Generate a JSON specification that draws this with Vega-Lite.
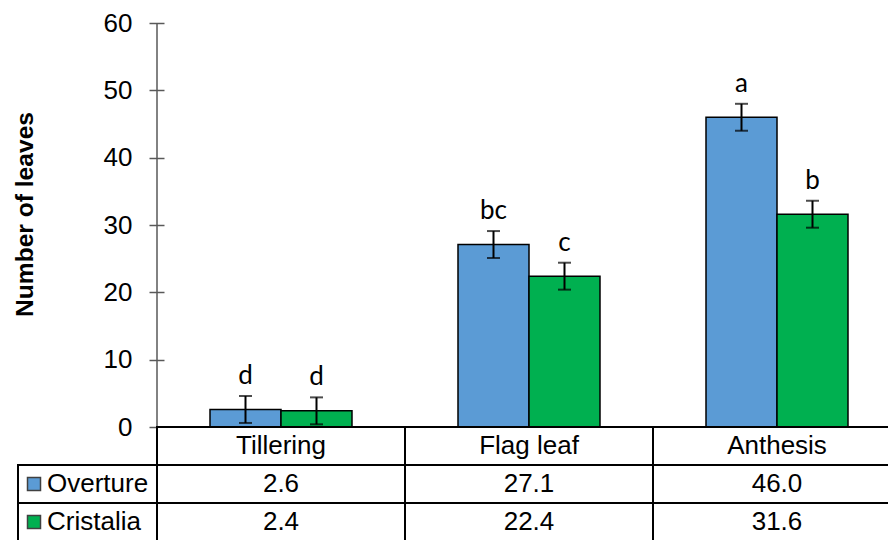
{
  "$schema": "https://vega.github.io/schema/vega-lite/v6.json",
  "width": 731,
  "height": 517,
  "autosize": {"type": "none"},
  "padding": {"left": 157, "top": 23, "right": 0, "bottom": 0},
  "background": "white",
  "config": {"view": {"stroke": null}, "font": "Liberation Sans"},
  "datasets": {
    "leaves": [
      {"stage": "Tillering", "cultivar": "Overture", "mean": 2.6, "se": 2.0, "group": "d"},
      {"stage": "Tillering", "cultivar": "Cristalia", "mean": 2.4, "se": 2.0, "group": "d"},
      {"stage": "Flag leaf", "cultivar": "Overture", "mean": 27.1, "se": 2.0, "group": "bc"},
      {"stage": "Flag leaf", "cultivar": "Cristalia", "mean": 22.4, "se": 2.0, "group": "c"},
      {"stage": "Anthesis", "cultivar": "Overture", "mean": 46.0, "se": 2.0, "group": "a"},
      {"stage": "Anthesis", "cultivar": "Cristalia", "mean": 31.6, "se": 2.0, "group": "b"}
    ],
    "stages": [{"stage": "Tillering"}, {"stage": "Flag leaf"}, {"stage": "Anthesis"}],
    "cultivars": [{"cultivar": "Overture"}, {"cultivar": "Cristalia"}]
  },
  "layer": [
    {
      "layer": [
        {
          "data": {"name": "leaves"},
          "transform": [
            {"calculate": "datum.mean - datum.se", "as": "lo"},
            {"calculate": "datum.mean + datum.se", "as": "hi"}
          ],
          "encoding": {
            "x": {
              "field": "stage", "type": "nominal",
              "scale": {"domain": ["Tillering", "Flag leaf", "Anthesis"], "range": [0, 744], "paddingInner": 0, "paddingOuter": 0},
              "axis": null
            },
            "xOffset": {
              "field": "cultivar", "type": "nominal",
              "scale": {"domain": ["Overture", "Cristalia"], "paddingInner": 0, "paddingOuter": 0.7465}
            }
          },
          "layer": [
            {
              "mark": {"type": "bar", "stroke": "black", "strokeWidth": 1.5},
              "encoding": {
                "y": {
                  "field": "mean", "type": "quantitative",
                  "scale": {"domain": [0, 60], "range": [404, 0], "nice": false, "zero": true},
                  "axis": {
                    "values": [0, 10, 20, 30, 40, 50, 60],
                    "title": "Number of leaves",
                    "titleFont": "Liberation Sans", "titleFontSize": 24.6, "titleFontWeight": "bold", "titleColor": "black",
                    "titlePadding": 66, "titleY": 191,
                    "labelFont": "Liberation Sans", "labelFontSize": 26, "labelColor": "black", "labelPadding": 17,
                    "tickColor": "#595959", "tickWidth": 1.5, "tickSize": 15,
                    "offset": -7, "domain": false, "grid": false
                  }
                },
                "color": {
                  "field": "cultivar", "type": "nominal",
                  "scale": {"domain": ["Overture", "Cristalia"], "range": ["#5B9BD5", "#00B050"]},
                  "legend": null
                }
              }
            },
            {
              "mark": {"type": "rule", "color": "black", "strokeWidth": 2},
              "encoding": {"y": {"field": "lo", "type": "quantitative"}, "y2": {"field": "hi"}}
            },
            {
              "mark": {"type": "tick", "orient": "horizontal", "color": "black", "size": 13, "thickness": 2},
              "encoding": {"y": {"field": "lo", "type": "quantitative"}}
            },
            {
              "mark": {"type": "tick", "orient": "horizontal", "color": "black", "size": 13, "thickness": 2},
              "encoding": {"y": {"field": "hi", "type": "quantitative"}}
            },
            {
              "mark": {"type": "text", "font": "Lato", "fontSize": 26, "color": "black", "baseline": "alphabetic", "dy": -12},
              "encoding": {"y": {"field": "hi", "type": "quantitative"}, "text": {"field": "group"}}
            }
          ]
        },
        {
          "data": {"values": [{}]},
          "mark": {"type": "rule", "color": "#595959", "strokeWidth": 1.5},
          "encoding": {
            "x": {"datum": "Tillering", "bandPosition": 0},
            "y": {"datum": 0},
            "y2": {"datum": 60}
          }
        }
      ]
    },
    {
      "encoding": {
        "x": {
          "field": "stage", "type": "nominal",
          "scale": {"domain": ["Tillering", "Flag leaf", "Anthesis"], "range": [0, 744], "paddingInner": 0, "paddingOuter": 0},
          "axis": null
        }
      },
      "layer": [
        {
          "data": {"name": "stages"},
          "mark": {"type": "rect", "fill": "white", "stroke": "black", "strokeWidth": 2},
          "encoding": {
            "y": {"datum": "header", "type": "nominal", "scale": {"domain": ["header", "Overture", "Cristalia"], "range": [404, 518], "paddingInner": 0, "paddingOuter": 0}, "axis": null}
          }
        },
        {
          "data": {"name": "stages"},
          "mark": {"type": "text", "fontSize": 26, "color": "black", "baseline": "middle"},
          "encoding": {
            "y": {"datum": "header", "type": "nominal"},
            "text": {"field": "stage"}
          }
        },
        {
          "data": {"name": "leaves"},
          "mark": {"type": "rect", "fill": "white", "stroke": "black", "strokeWidth": 2},
          "encoding": {"y": {"field": "cultivar", "type": "nominal"}}
        },
        {
          "data": {"name": "leaves"},
          "mark": {"type": "text", "fontSize": 26, "color": "black", "baseline": "middle"},
          "encoding": {
            "y": {"field": "cultivar", "type": "nominal"},
            "text": {"field": "mean", "type": "quantitative", "format": ".1f"}
          }
        }
      ]
    },
    {
      "data": {"name": "cultivars"},
      "encoding": {
        "y": {"field": "cultivar", "type": "nominal", "scale": {"domain": ["header", "Overture", "Cristalia"], "range": [404, 518], "paddingInner": 0, "paddingOuter": 0}, "axis": null}
      },
      "layer": [
        {
          "mark": {"type": "rect", "fill": "white", "stroke": "black", "strokeWidth": 2},
          "encoding": {
            "x": {"datum": "key", "type": "nominal", "scale": {"domain": ["key"], "range": [-139, 0], "paddingInner": 0, "paddingOuter": 0}, "axis": null}
          }
        },
        {
          "mark": {"type": "point", "shape": "square", "size": 169, "filled": true, "stroke": "#404040", "strokeWidth": 1.5, "opacity": 1, "xOffset": 16},
          "encoding": {
            "x": {"datum": "key", "type": "nominal", "bandPosition": 0},
            "color": {"field": "cultivar", "type": "nominal", "legend": null}
          }
        },
        {
          "mark": {"type": "text", "fontSize": 26, "color": "black", "align": "left", "baseline": "middle", "xOffset": 29},
          "encoding": {
            "x": {"datum": "key", "type": "nominal", "bandPosition": 0},
            "text": {"field": "cultivar"}
          }
        }
      ]
    }
  ],
  "resolve": {"scale": {"x": "independent", "y": "independent"}}
}
